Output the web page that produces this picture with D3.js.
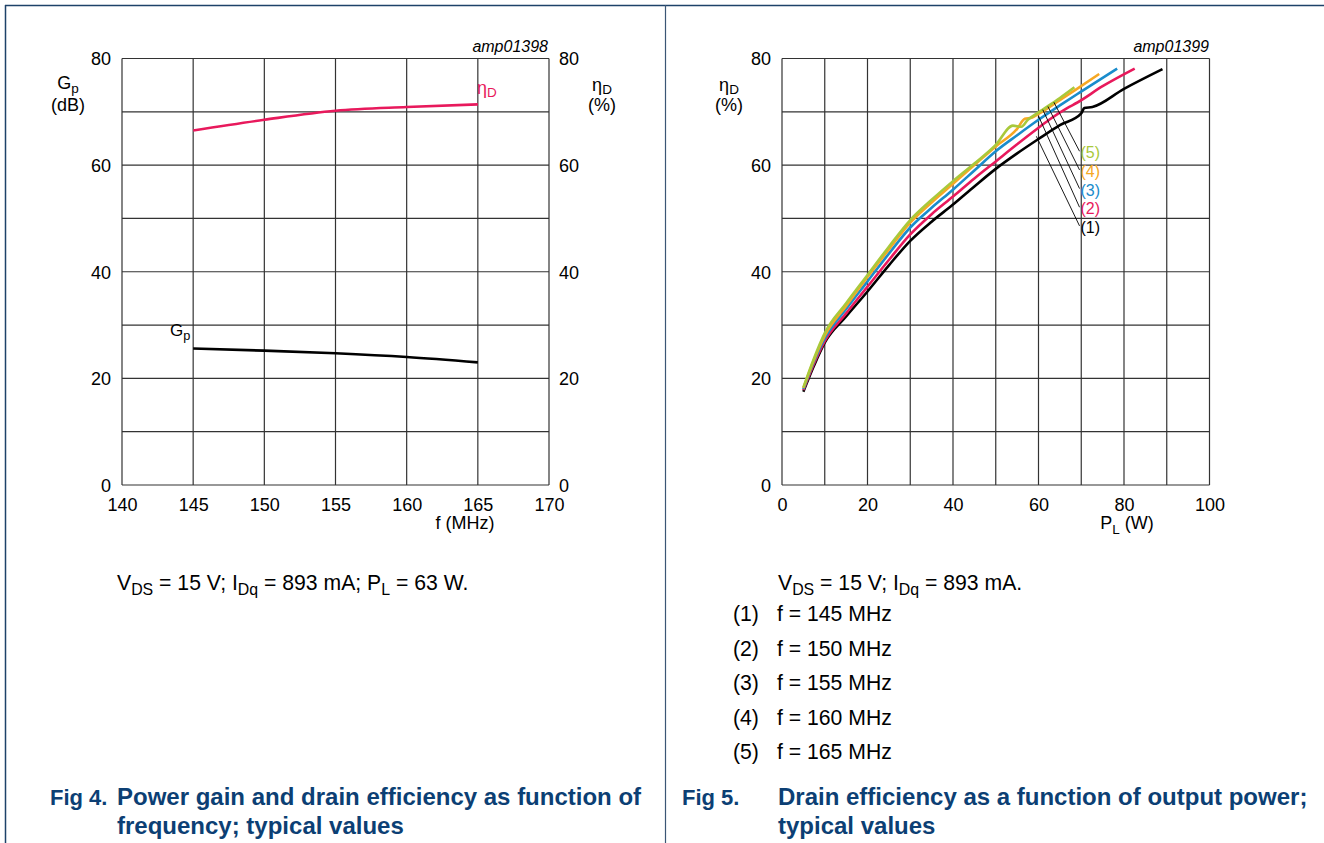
<!DOCTYPE html>
<html><head><meta charset="utf-8">
<script src="https://cdn.jsdelivr.net/npm/d3@7"></script>
<style>
html,body{margin:0;padding:0;background:#fff;}
svg{display:block;font-family:"Liberation Sans",Arial,Helvetica,sans-serif;}
</style></head>
<body><svg id="c" width="1324" height="843"></svg>
<script>
// ---------- Fig 4 data ----------
const fTicks = [140,145,150,155,160,165,170];
const leftYTicks = [0,20,40,60,80];
const freq = [145,150,155,160,165];
const gainDB = [25.6,25.2,24.7,24.0,23.0];
const drainEff = [66.5,68.5,70.2,70.9,71.4];

// ---------- Fig 5 data ----------
const pTicks = [0,20,40,60,80,100];
const etaTicks = [0,20,40,60,80];
const seriesNames = ["(1)","(2)","(3)","(4)","(5)"];
const seriesFreq = ["f = 145 MHz","f = 150 MHz","f = 155 MHz","f = 160 MHz","f = 165 MHz"];
const seriesColors = ["#000000","#e8195c","#1a8ccc","#f6a823","#a9c93b"];
const pl145  = [5,7.5,10,15,20,25,30,35,40,45,50,55,60,65,70,70.7,72.6,80,89];
const eta145 = [17.5,22.4,26.7,31.6,36.3,41.2,45.8,49.4,52.6,56.0,59.3,62.2,64.9,67.5,69.7,70.7,70.9,74.3,78.0];
const pl150  = [5,7.5,10,15,20,25,30,35,40,45,50,55,60,63,66.7,69,75,82.5];
const eta150 = [17.8,22.8,27,32.2,37.2,42.2,47.0,50.8,54.1,57.5,60.7,63.9,67.0,68.8,70.7,71.7,74.8,78.1];
const pl155  = [5,7.5,10,15,20,25,30,35,40,45,50,55,60,65,69.6,78.4];
const eta155 = [18,23.2,27.5,33.0,38.2,43.4,48.3,52,55.4,59,62.6,65.6,68.5,71.2,73.6,78.1];
const pl160  = [5,7.5,10,15,20,25,30,35,40,45,50,55,56.8,58.4,60,65,69,74.2];
const eta160 = [18.2,23.5,28,33.6,39,44.2,49.2,53,56.5,60,63.5,66.8,68.7,68.9,69.6,72.2,74.3,77.1];
const pl165  = [5,7.5,10,15,20,25,30,35,40,45,50,54,56,57.5,60,65,68.4];
const eta165 = [18.3,23.8,28.5,34.1,39.4,44.7,49.7,53.5,57.0,60.3,63.8,67.4,67.2,68.5,69.9,72.6,74.6];
const leaderFromP   = [59.5,60.0,61.0,62.2,63.6];
const leaderFromEta = [65.4,69.2,70.4,71.0,71.8];
const leaderToP     = [69.6,69.6,69.6,69.6,69.6];
const leaderToEta   = [48.6,52.1,55.6,59.1,62.6];

const svg = d3.select("#c");
svg.append("rect").attr("width",1324).attr("height",843).attr("fill","#fff");

const gridColor = "#333";
const navy = "#0c3f74";

// frame
svg.append("line").attr("x1",5).attr("x2",1324).attr("y1",5.5).attr("y2",5.5).attr("stroke","#1d4269").attr("stroke-width",1.5);
svg.append("line").attr("x1",5.5).attr("x2",5.5).attr("y1",5).attr("y2",843).attr("stroke","#1d4269").attr("stroke-width",1.5);
svg.append("line").attr("x1",665.5).attr("x2",665.5).attr("y1",5).attr("y2",843).attr("stroke","#3b5675").attr("stroke-width",1.2);

function subText(g, x, y, parts, opts) {
  const t = g.append("text").attr("x",x).attr("y",y)
    .attr("font-size",opts.size).attr("fill",opts.fill||"#000")
    .attr("text-anchor",opts.anchor||"start");
  const shift = opts.shift || 0.25;
  let sub = false;
  parts.forEach(p => {
    const s = t.append("tspan").text(p[0]);
    if (p[1]) { s.attr("font-size",opts.size*0.75); if (!sub) { s.attr("dy",opts.size*shift); sub = true; } }
    else if (sub) { s.attr("dy",-opts.size*shift); sub = false; }
  });
  return t;
}

// ================= Fig 4 =================
const x4 = d3.scaleLinear().domain([140,170]).range([122,549]);
const y4 = d3.scaleLinear().domain([0,80]).range([485,58.5]);
const g4 = svg.append("g");
g4.selectAll(".vg").data(fTicks).join("line")
  .attr("x1",d=>x4(d)).attr("x2",d=>x4(d)).attr("y1",y4(0)).attr("y2",y4(80))
  .attr("stroke",gridColor).attr("stroke-width",1.2);
g4.selectAll(".hg").data(d3.range(0,81,10)).join("line")
  .attr("x1",x4(140)).attr("x2",x4(170)).attr("y1",d=>y4(d)).attr("y2",d=>y4(d))
  .attr("stroke",gridColor).attr("stroke-width",1.2);
const axB4 = g4.append("g").attr("transform",`translate(0,${y4(0)})`)
  .call(d3.axisBottom(x4).tickValues(fTicks).tickSize(0).tickPadding(13).tickFormat(d3.format("d")));
const axL4 = g4.append("g").attr("transform",`translate(${x4(140)},0)`)
  .call(d3.axisLeft(y4).tickValues(leftYTicks).tickSize(0).tickPadding(11));
const axR4 = g4.append("g").attr("transform",`translate(${x4(170)},0)`)
  .call(d3.axisRight(y4).tickValues(leftYTicks).tickSize(0).tickPadding(10));
[axB4,axL4,axR4].forEach(a=>{a.select(".domain").remove();a.selectAll("text").attr("font-size",18).attr("fill","#000").attr("font-family","Liberation Sans, Arial, sans-serif");});
axL4.selectAll("text").attr("dy","0.36em");
axR4.selectAll("text").attr("dy","0.36em");

g4.append("text").attr("x",465).attr("y",529).attr("text-anchor","middle").attr("font-size",18).text("f (MHz)");
subText(g4,68,89,[["G",false],["p",true]],{size:18,anchor:"middle",shift:0.2});
g4.append("text").attr("x",68).attr("y",111).attr("text-anchor","middle").attr("font-size",18).text("(dB)");
subText(g4,602,91,[["η",false],["D",true]],{size:18,anchor:"middle",shift:0.15});
g4.append("text").attr("x",602).attr("y",111).attr("text-anchor","middle").attr("font-size",18).text("(%)");
g4.append("text").attr("x",548).attr("y",52).attr("text-anchor","end").attr("font-size",16).attr("font-style","italic").text("amp01398");

const line4g = d3.line().x((d,i)=>x4(freq[i])).y(d=>y4(d)).curve(d3.curveMonotoneX);
g4.append("path").attr("d",line4g(gainDB)).attr("fill","none").attr("stroke","#000").attr("stroke-width",2.6);
g4.append("path").attr("d",line4g(drainEff)).attr("fill","none").attr("stroke","#e8195c").attr("stroke-width",2.6);
subText(g4,170,336,[["G",false],["p",true]],{size:17});
subText(g4,477,94,[["η",false],["D",true]],{size:18,fill:"#e8195c",shift:0.15});

subText(g4,117,590,[["V",false],["DS",true],[" = 15 V; I",false],["Dq",true],[" = 893 mA; P",false],["L",true],[" = 63 W.",false]],{size:21.2});

// ================= Fig 5 =================
const x5 = d3.scaleLinear().domain([0,100]).range([782,1209.5]);
const y5 = d3.scaleLinear().domain([0,80]).range([485,58.5]);
const g5 = svg.append("g");
g5.selectAll(".vg").data(d3.range(0,101,10)).join("line")
  .attr("x1",d=>x5(d)).attr("x2",d=>x5(d)).attr("y1",y5(0)).attr("y2",y5(80))
  .attr("stroke",gridColor).attr("stroke-width",1.2);
g5.selectAll(".hg").data(d3.range(0,81,10)).join("line")
  .attr("x1",x5(0)).attr("x2",x5(100)).attr("y1",d=>y5(d)).attr("y2",d=>y5(d))
  .attr("stroke",gridColor).attr("stroke-width",1.2);
const axB5 = g5.append("g").attr("transform",`translate(0,${y5(0)})`)
  .call(d3.axisBottom(x5).tickValues(pTicks).tickSize(0).tickPadding(13).tickFormat(d3.format("d")));
const axL5 = g5.append("g").attr("transform",`translate(${x5(0)},0)`)
  .call(d3.axisLeft(y5).tickValues(etaTicks).tickSize(0).tickPadding(11));
[axB5,axL5].forEach(a=>{a.select(".domain").remove();a.selectAll("text").attr("font-size",18).attr("fill","#000").attr("font-family","Liberation Sans, Arial, sans-serif");});
axL5.selectAll("text").attr("dy","0.36em");

subText(g5,1127,529,[["P",false],["L",true],[" (W)",false]],{size:18,anchor:"middle"});
subText(g5,729,91,[["η",false],["D",true]],{size:18,anchor:"middle",shift:0.15});
g5.append("text").attr("x",729).attr("y",111).attr("text-anchor","middle").attr("font-size",18).text("(%)");
g5.append("text").attr("x",1209).attr("y",52).attr("text-anchor","end").attr("font-size",16).attr("font-style","italic").text("amp01399");

const seriesP = [pl145,pl150,pl155,pl160,pl165];
const seriesE = [eta145,eta150,eta155,eta160,eta165];
const line5 = d3.line().x(d=>x5(d[0])).y(d=>y5(d[1])).curve(d3.curveMonotoneX);
for (let s=0;s<5;s++){
  const pts = seriesP[s].map((p,i)=>[p,seriesE[s][i]]);
  g5.append("path").attr("d",line5(pts)).attr("fill","none")
    .attr("stroke",seriesColors[s]).attr("stroke-width",2.6);
}
for (let s=0;s<5;s++){
  g5.append("line").attr("x1",x5(leaderFromP[s])).attr("y1",y5(leaderFromEta[s]))
    .attr("x2",x5(leaderToP[s])).attr("y2",y5(leaderToEta[s]))
    .attr("stroke","#000").attr("stroke-width",0.9);
  g5.append("text").attr("x",x5(leaderToP[s])+1).attr("y",y5(leaderToEta[s])+7)
    .attr("font-size",16).attr("fill",seriesColors[s]).text(seriesNames[s]);
}

subText(g5,778,590,[["V",false],["DS",true],[" = 15 V; I",false],["Dq",true],[" = 893 mA.",false]],{size:21.2});
const listY = [621,656,690,725,759];
seriesNames.forEach((n,i)=>{
  g5.append("text").attr("x",733).attr("y",listY[i]).attr("font-size",21.2).text(n);
  g5.append("text").attr("x",777).attr("y",listY[i]).attr("font-size",21.2).text(seriesFreq[i]);
});

function caption(x0,x1,lines){
  svg.append("text").attr("x",x0).attr("y",805).attr("font-size",22).attr("font-weight","bold").attr("fill",navy).text(lines[0]);
  svg.append("text").attr("x",x1).attr("y",805).attr("font-size",24).attr("font-weight","bold").attr("fill",navy).text(lines[1]);
  svg.append("text").attr("x",x1).attr("y",834).attr("font-size",24).attr("font-weight","bold").attr("fill",navy).text(lines[2]);
}
caption(50,117,["Fig 4.","Power gain and drain efficiency as function of","frequency; typical values"]);
caption(682,778,["Fig 5.","Drain efficiency as a function of output power;","typical values"]);
</script></body></html>
